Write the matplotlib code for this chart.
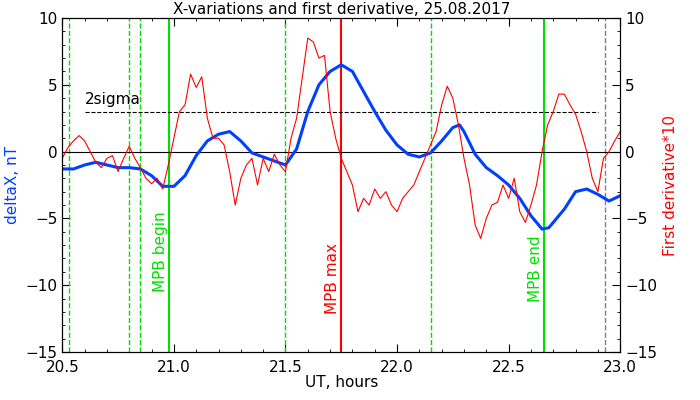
import matplotlib
matplotlib.use('Agg')
import matplotlib.pyplot as plt
from matplotlib.ticker import MultipleLocator

bx = [20.5,20.55,20.6,20.65,20.7,20.75,20.8,20.85,20.9,20.95,21.0,21.05,21.1,21.15,21.2,21.25,21.3,21.35,21.4,21.45,21.5,21.55,21.6,21.65,21.7,21.75,21.8,21.85,21.9,21.95,22.0,22.05,22.1,22.15,22.2,22.25,22.28,22.3,22.35,22.4,22.45,22.5,22.55,22.6,22.65,22.68,22.75,22.8,22.85,22.9,22.95,23.0]
by = [-1.3,-1.3,-1.0,-0.8,-1.0,-1.2,-1.2,-1.3,-1.8,-2.6,-2.6,-1.8,-0.3,0.8,1.3,1.5,0.8,-0.1,-0.4,-0.7,-1.0,0.2,3.0,5.0,6.0,6.5,6.0,4.5,3.0,1.6,0.5,-0.2,-0.4,-0.1,0.8,1.8,2.0,1.5,-0.2,-1.2,-1.8,-2.5,-3.5,-4.8,-5.8,-5.7,-4.3,-3.0,-2.8,-3.2,-3.7,-3.3]
rx = [20.5+0.025*i for i in range(101)]
ry = [-0.5,0.3,0.8,1.2,0.8,0,-0.8,-1.2,-0.5,-0.3,-1.5,-0.5,0.4,-0.5,-1.2,-2.0,-2.4,-2.0,-2.8,-1.0,1.0,3.0,3.5,5.8,4.8,5.6,2.5,1.0,1.0,0.5,-1.5,-4.0,-2.0,-1.0,-0.5,-2.5,-0.5,-1.5,-0.2,-1.0,-1.5,1.0,2.5,5.5,8.5,8.2,7.0,7.2,3.0,1.0,-0.5,-1.5,-2.5,-4.5,-3.5,-4.0,-2.8,-3.5,-3.0,-4.0,-4.5,-3.5,-3.0,-2.5,-1.5,-0.5,0.5,1.5,3.5,4.9,4.0,2.0,-0.5,-2.5,-5.5,-6.5,-5.0,-4.0,-3.8,-2.5,-3.5,-2.0,-4.5,-5.3,-4.0,-2.5,0,2.0,3.0,4.3,4.3,3.5,2.8,1.5,0,-2.0,-3.0,-0.5,0,0.8,1.5]
green_dashed = [20.53,20.80,20.85,21.50,22.15]
green_solid = [20.98,22.66]
red_solid = [21.75]
gray_dashed = [22.93]
sigma = 3

fig = plt.figure(figsize=(7,4), dpi=100)
ax = fig.add_axes([0.089,0.12,0.797,0.835])
ax.set_xlim(20.5,23.0); ax.set_ylim(-15,10)
for x in green_dashed: ax.axvline(x,color='#00e000',ls='--',lw=1)
for x in green_solid: ax.axvline(x,color='#00e000',lw=1.5)
for x in red_solid: ax.axvline(x,color='red',lw=1.5)
for x in gray_dashed: ax.axvline(x,color='gray',ls='--',lw=1)
ax.axhline(0,color='black',lw=0.8)
ax.axhline(sigma,color='black',ls='--',lw=0.8,xmin=0.04,xmax=0.96)
ax.text(20.6,3.6,'2sigma',fontsize=11)
ax.plot(bx,by,color='#0040ff',lw=2.2)
ax.plot(rx,ry,color='red',lw=0.8)
ax.text(20.94,-7.5,'MPB begin',rotation=90,color='#00e000',fontsize=11,ha='center',va='center')
ax.text(21.71,-9.5,'MPB max',rotation=90,color='red',fontsize=11,ha='center',va='center')
ax.text(22.62,-8.8,'MPB end',rotation=90,color='#00e000',fontsize=11,ha='center',va='center')
ax.xaxis.set_major_locator(MultipleLocator(0.5)); ax.xaxis.set_minor_locator(MultipleLocator(0.1))
ax.yaxis.set_major_locator(MultipleLocator(5)); ax.yaxis.set_minor_locator(MultipleLocator(1))
ax.tick_params(which='both',direction='in',top=True,labelsize=11)
ax.tick_params(axis='x',pad=6)
ax.tick_params(which='major',length=6)
ax.set_xlabel('UT, hours',fontsize=11,labelpad=0)
ax.set_ylabel('deltaX, nT',color='#0040ff',fontsize=11)
ax.set_title('X-variations and first derivative, 25.08.2017',fontsize=11,pad=3)
ax2 = ax.twinx(); ax2.set_ylim(-15,10)
ax2.yaxis.set_major_locator(MultipleLocator(5)); ax2.yaxis.set_minor_locator(MultipleLocator(1))
ax2.tick_params(which='both',direction='in',labelsize=11)
ax2.tick_params(which='major',length=6)
ax2.set_ylabel('First derivative*10',color='red',fontsize=11)
fig.savefig('out.png')
